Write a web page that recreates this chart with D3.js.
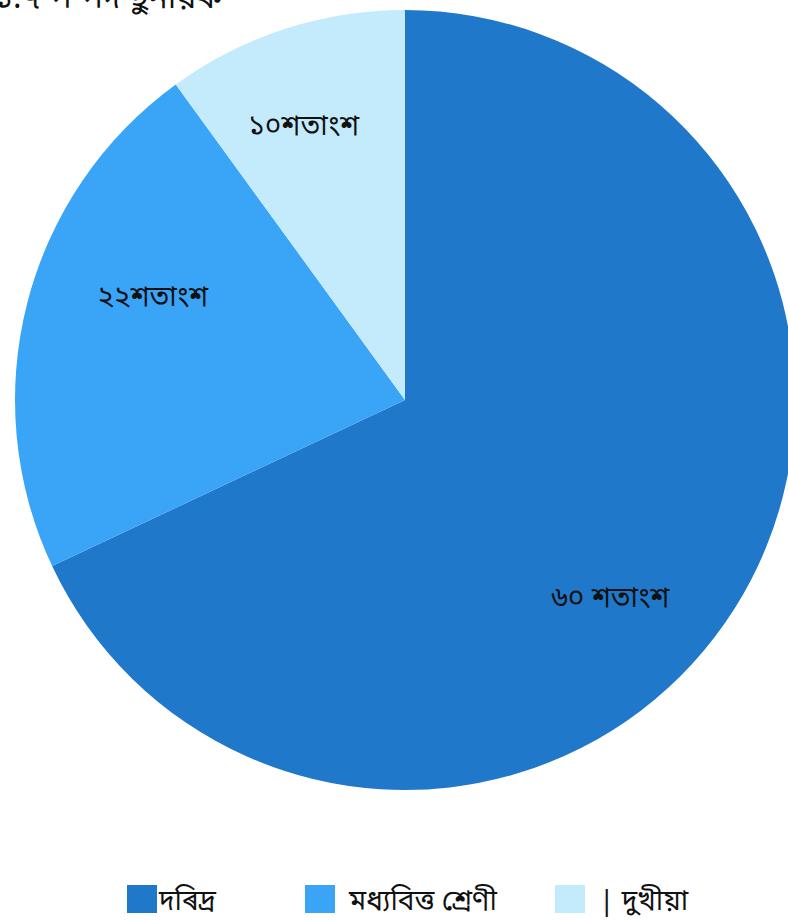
<!DOCTYPE html>
<html>
<head>
<meta charset="utf-8">
<script src="https://cdn.jsdelivr.net/npm/d3@7"></script>
<style>
  body { margin: 0; background: #fff; }
  svg { display: block; }
  text { font-family: "Noto Sans", "Noto Sans Bengali", "Lohit Assamese", "Lohit Bengali", sans-serif; fill: #111; }
</style>
</head>
<body>
<div id="chart"></div>
<script>
// slice values (angles), with the label text as printed
const categories = ["দৰিদ্ৰ", "মধ্যবিত্ত শ্ৰেণী", "দুখীয়া"]
const values = [68, 22, 10]
const sliceLabels = ["৬০ শতাংশ", "২২শতাংশ", "১০শতাংশ"]
const legendLabels = ["দৰিদ্ৰ", "মধ্যবিত্ত শ্ৰেণী", "| দুখীয়া"]
const colors = ["#1f78c9", "#3aa4f6", "#c3ebfb"]
const titleText = "১.৭  প  পদ  ছুনায়ক"

const width = 788
const height = 920
const cx = 405, cy = 400, radius = 390

const svg = d3.select("#chart").append("svg")
    .attr("width", width)
    .attr("height", height)
    .attr("viewBox", `0 0 ${width} ${height}`)

// cut-off heading at the very top
svg.append("text")
    .attr("x", -6)
    .attr("y", 8)
    .attr("font-size", 32)
    .text(titleText)

const color = d3.scaleOrdinal().domain(categories).range(colors)

const pie = d3.pie().sort(null).value(d => d.value)
const data = categories.map((c, i) => ({name: c, value: values[i], label: sliceLabels[i]}))
const arcs = pie(data)

const arc = d3.arc().innerRadius(0).outerRadius(radius)

const g = svg.append("g").attr("transform", `translate(${cx},${cy})`)

g.selectAll("path")
    .data(arcs)
    .join("path")
    .attr("d", arc)
    .attr("fill", d => color(d.data.name))

// labels sit a bit off the centroid, nudged along the slice angle
const nudge = [0.2, 0.14, -0.04]
const labelR = [0.73, 0.7, 0.75]
g.selectAll(".lbl")
    .data(arcs)
    .join("text")
    .attr("class", "lbl")
    .attr("transform", (d, i) => {
        const a = (d.startAngle + d.endAngle) / 2 + nudge[i]
        const r = radius * labelR[i]
        return `translate(${Math.sin(a) * r},${-Math.cos(a) * r})`
    })
    .attr("text-anchor", "middle")
    .attr("dy", "0.35em")
    .attr("font-size", 28)
    .text(d => d.data.label)

// legend
const legendX = d3.scaleOrdinal().domain(categories).range([127, 305, 555])

const leg = svg.append("g").selectAll("g")
    .data(categories)
    .join("g")
    .attr("transform", d => `translate(${legendX(d)},885)`)

leg.append("rect")
    .attr("width", 30)
    .attr("height", 28)
    .attr("fill", d => color(d))

leg.append("text")
    .attr("x", (d, i) => i === 0 ? 32 : 44)
    .attr("y", 25)
    .attr("font-size", 28)
    .text((d, i) => legendLabels[i])
</script>
</body>
</html>
